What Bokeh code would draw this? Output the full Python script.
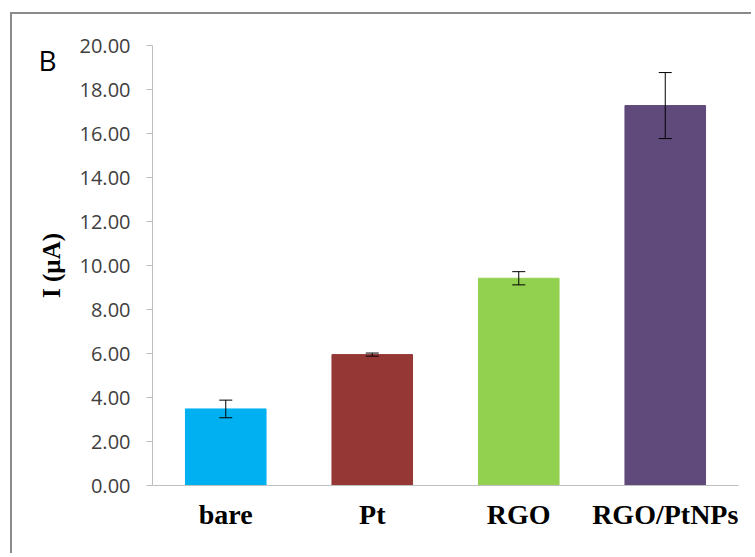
from bokeh.plotting import figure
from bokeh.models import (ColumnDataSource, Whisker, TeeHead, FactorRange, Range1d,
                          NumeralTickFormatter, FixedTicker, LinearAxis, CustomJSTickFormatter)
from bokeh.embed import file_html
from bokeh.resources import INLINE

categories = ["bare", "Pt", "RGO", "RGO/PtNPs"]
values = [3.48, 5.95, 9.42, 17.27]
errors = [0.40, 0.07, 0.30, 1.50]
colors = ["#00B0F0", "#953735", "#92D050", "#604A7B"]
y_ticks = [0, 2, 4, 6, 8, 10, 12, 14, 16, 18, 20]
panel_letter = "B"

src = ColumnDataSource(dict(
    cat=categories, val=values, col=colors,
    upper=[v + e for v, e in zip(values, errors)],
    lower=[v - e for v, e in zip(values, errors)],
))

p = figure(width=741, height=541, output_backend="svg", toolbar_location=None,
           x_range=FactorRange(*categories, range_padding=0), y_range=Range1d(0, 20),
           min_border_left=140, min_border_right=15, min_border_top=31, min_border_bottom=70)
p.styles = {"margin-left": "10px", "margin-top": "12px",
            "border-left": "2px solid #8a8a8a", "border-top": "2px solid #8a8a8a"}
p.outline_line_color = None
p.xgrid.visible = False
p.ygrid.visible = False

p.vbar(x="cat", top="val", width=0.55, fill_color="col", line_color="col", source=src)
p.add_layout(Whisker(source=src, base="cat", upper="upper", lower="lower",
                     line_color="#000000", line_width=1, level="overlay",
                     upper_head=TeeHead(size=13, line_color="#000000", line_width=1),
                     lower_head=TeeHead(size=13, line_color="#000000", line_width=1)))

p.yaxis.ticker = FixedTicker(ticks=y_ticks)
p.yaxis.formatter = NumeralTickFormatter(format="0.00")
p.yaxis.axis_label = "I (µA)"
p.yaxis.axis_label_text_font = "Liberation Serif"
p.yaxis.axis_label_text_font_style = "bold"
p.yaxis.axis_label_text_font_size = "25px"
p.yaxis.axis_label_text_color = "#000000"
p.yaxis.axis_label_standoff = 12
p.yaxis.major_label_text_font = "Open Sans"
p.yaxis.major_label_text_font_size = "20px"
p.yaxis.major_label_text_color = "#404040"
p.yaxis.major_label_standoff = 16
p.yaxis.axis_line_color = "#bfbfbf"
p.yaxis.major_tick_line_color = "#bfbfbf"
p.yaxis.major_tick_out = 6
p.yaxis.major_tick_in = 0
p.yaxis.minor_tick_line_color = None

p.xaxis.axis_line_color = "#bfbfbf"
p.xaxis.major_tick_line_color = None
p.xaxis.major_label_text_font = "Liberation Serif"
p.xaxis.major_label_text_font_style = "bold"
p.xaxis.major_label_text_font_size = "28px"
p.xaxis.major_label_text_color = "#000000"
p.xaxis.major_label_standoff = 7

# panel letter, drawn as the single label of an extra (invisible) left axis
letter_axis = LinearAxis(ticker=FixedTicker(ticks=[19.36]),
                         formatter=CustomJSTickFormatter(code="return '%s'" % panel_letter),
                         axis_line_color=None, major_tick_line_color=None,
                         minor_tick_line_color=None, major_tick_out=0, major_tick_in=0,
                         major_label_standoff=-22,
                         major_label_text_font="Open Sans",
                         major_label_text_font_size="28px",
                         major_label_text_color="#000000")
p.add_layout(letter_axis, "left")

open("out.html", "w").write(file_html(p, INLINE))
